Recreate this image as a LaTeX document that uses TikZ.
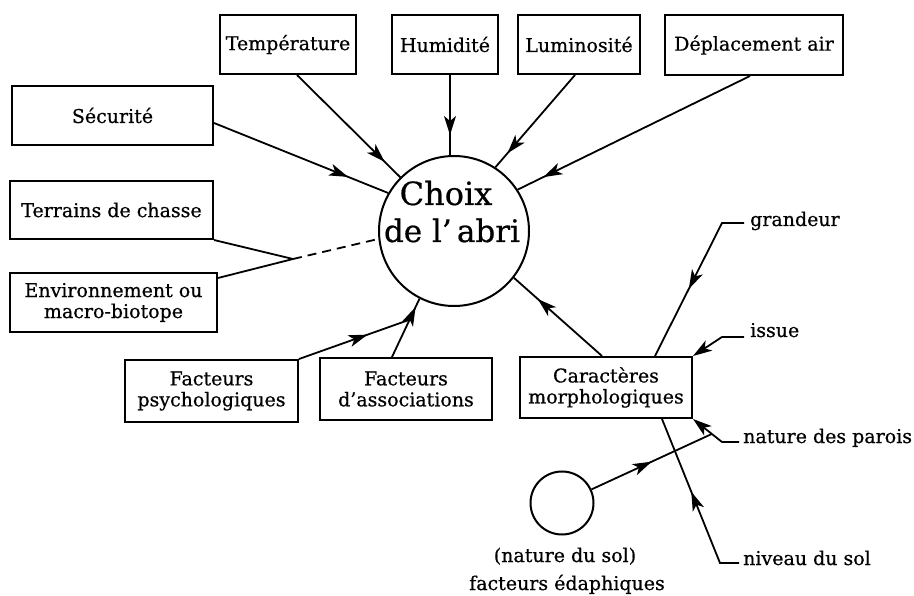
\documentclass[tikz,border=0pt]{standalone}
\usepackage{fontspec}
\setmainfont{DejaVu Serif}[FakeBold=0.6]
\usetikzlibrary{arrows.meta,decorations.markings,calc}
\begin{document}
\begin{tikzpicture}[x=1pt,y=-1pt,
  box/.style={draw,line width=2pt,inner sep=0pt,align=center,font=\fontsize{19}{21}\selectfont},
  lbl/.style={inner sep=0pt,font=\fontsize{19}{21}\selectfont},
  conn/.style={line width=1.8pt,line join=miter},
  midarrow/.style={conn,postaction={decorate},decoration={markings,mark=at position #1 with {\arrow{Stealth[length=19pt,width=12pt,inset=5pt]}}}},
  endarrow/.style={conn,-{Stealth[length=19pt,width=12pt,inset=5pt]}}
]
\useasboundingbox (0,0) rectangle (914,596);

% top boxes
\node[box,minimum width=136pt,minimum height=59pt] (temp) at (288,44.5) {Température};
\node[box,minimum width=106pt,minimum height=59pt] (hum) at (445,44.5) {Humidité};
\node[box,minimum width=122pt,minimum height=59pt] (lum) at (579,44.5) {Luminosité};
\node[box,minimum width=178pt,minimum height=60pt] (dep) at (754,45) {Déplacement air};
% left boxes
\node[box,minimum width=201pt,minimum height=59pt] (sec) at (112.5,115.5) {Sécurité};
\node[box,minimum width=203pt,minimum height=58pt] (terr) at (111.5,210) {Terrains de chasse};
\node[box,minimum width=207pt,minimum height=59pt] (env) at (113.5,302.5) {Environnement ou\\macro-biotope};
% bottom boxes
\node[box,minimum width=173pt,minimum height=62pt] (psy) at (211.5,391) {Facteurs\\psychologiques};
\node[box,minimum width=172pt,minimum height=62pt] (assoc) at (406,389) {Facteurs\\d’associations};
\node[box,minimum width=172pt,minimum height=61pt] (car) at (606,387.5) {Caractères\\morphologiques};

% central circle
\node[draw,circle,line width=2pt,minimum size=150pt,inner sep=0pt] (C) at (454,231) {};
\node[anchor=base,inner sep=0pt,font=\fontsize{32}{37}\selectfont] (ct1) at (446,205) {Choix};
\node[anchor=base,inner sep=0pt,font=\fontsize{31}{37}\selectfont] (ct2) at (452,242) {de l’\,abri};

% small circle
\node[draw,circle,line width=2pt,minimum size=63pt,inner sep=0pt] (sc) at (562,503) {};
\node[lbl,anchor=base] (ns) at (565,562) {(nature du sol)};
\node[lbl,anchor=base] (fe) at (567,590) {facteurs édaphiques};

% side labels
\node[lbl,anchor=base west] (gr) at (750,226) {grandeur};
\node[lbl,anchor=base west] (is) at (750,337) {issue};
\node[lbl,anchor=base west] (np) at (743,443) {nature des parois};
\node[lbl,anchor=base west] (nv) at (743,565) {niveau du sol};

\coordinate (J) at (293,259);
\coordinate (gb) at (722,223);
\coordinate (ib) at (722,337);
\coordinate (nb) at (722,442);
\coordinate (vb) at (720,563);

% arrows to central circle
\draw[midarrow=0.85] ([xshift=9pt]temp.south) -- (C.135);
\draw[midarrow=0.75] ([xshift=5pt]hum.south) -- ([xshift=5pt]hum.south |- C.north);
\draw[midarrow=0.85] ([xshift=-4pt]lum.south) -- (C.57);
\draw[midarrow=0.89] ([xshift=-4pt]dep.south) -- (C.33);
\draw[midarrow=0.77] ([yshift=-7.5pt]sec.east) -- (C.150);
\draw[conn] (terr.south east) -- (J);
\draw[conn] ([yshift=-6pt]env.north east) -- (J);
\draw[conn,dash pattern=on 9pt off 6pt] (J) -- (C.186);
\draw[midarrow=0.86] ([xshift=-14pt]assoc.north) -- (C.243);
\draw[midarrow=0.62] (psy.north east) -- ($([xshift=-14pt]assoc.north)!0.64!(C.243)$);
\draw[midarrow=0.73] ([xshift=-4pt]car.north) -- (C.322);

% morphological characters
\draw[midarrow=0.56] ([xshift=-6pt]gr.west |- gb) -- (gb) -- ([xshift=49pt]car.north);
\draw[endarrow] ([xshift=-6pt]is.west |- ib) -- (ib) -- (car.north east);
\draw[endarrow] ([xshift=-4pt]np.west |- nb) -- (nb) -- (car.south east);
\draw[midarrow=0.55] ([xshift=-4pt]nv.west |- vb) -- (vb) -- ([xshift=56pt]car.south);
\draw[midarrow=0.5] (sc) -- ($(nb)!0.35!(car.south east)$);
\end{tikzpicture}
\end{document}
